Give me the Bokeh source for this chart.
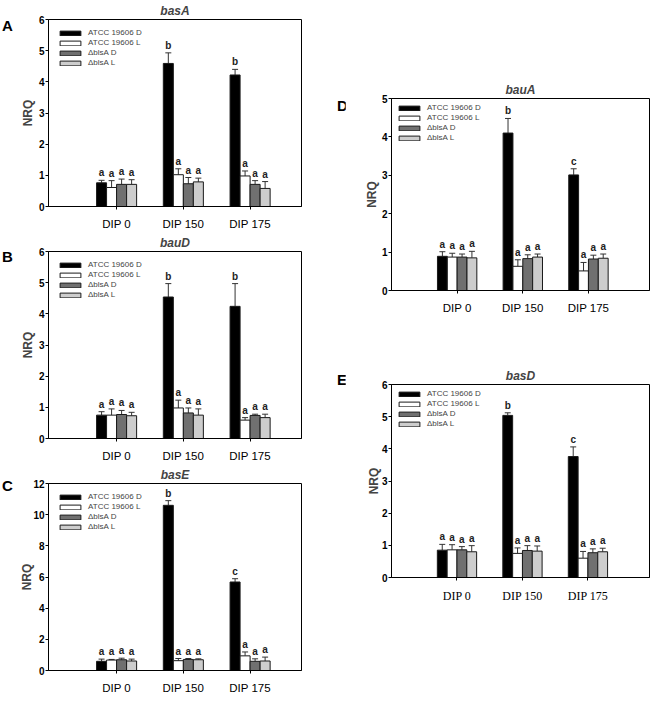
from bokeh.plotting import figure
from bokeh.layouts import row, column
from bokeh.models import ColumnDataSource, Whisker, TeeHead, Spacer, Div
from bokeh.core.properties import value
from bokeh.embed import file_html
from bokeh.resources import INLINE

groups = ["DIP 0", "DIP 150", "DIP 175"]
strains = ["ATCC 19606 D", "ATCC 19606 L", "\u0394blsA D", "\u0394blsA L"]
colors = ["black", "white", "#707070", "#cdcdcd"]

# NRQ per strain (rows) and DIP group (columns), upper error, letter groups
basA_nrq = [[0.76, 4.59, 4.22], [0.61, 1.02, 0.98], [0.71, 0.73, 0.71], [0.71, 0.79, 0.58]]
basA_err = [[0.08, 0.34, 0.18], [0.22, 0.19, 0.16], [0.17, 0.20, 0.12], [0.15, 0.12, 0.22]]
basA_sig = [["a", "b", "b"], ["a", "a", "a"], ["a", "a", "a"], ["a", "a", "a"]]

bauD_nrq = [[0.75, 4.54, 4.24], [0.75, 0.98, 0.59], [0.77, 0.82, 0.74], [0.73, 0.75, 0.67]]
bauD_err = [[0.11, 0.43, 0.73], [0.20, 0.25, 0.08], [0.13, 0.16, 0.04], [0.11, 0.20, 0.11]]
bauD_sig = [["a", "b", "b"], ["a", "a", "a"], ["a", "a", "a"], ["a", "a", "a"]]

basE_nrq = [[0.59, 10.6, 5.68], [0.67, 0.63, 0.94], [0.69, 0.71, 0.59], [0.61, 0.69, 0.61]]
basE_err = [[0.14, 0.30, 0.21], [0.04, 0.14, 0.25], [0.10, 0.06, 0.16], [0.12, 0.06, 0.25]]
basE_sig = [["a", "b", "c"], ["a", "a", "a"], ["a", "a", "a"], ["a", "a", "a"]]

bauA_nrq = [[0.89, 4.10, 3.01], [0.87, 0.63, 0.51], [0.87, 0.83, 0.82], [0.85, 0.87, 0.84]]
bauA_err = [[0.12, 0.38, 0.16], [0.10, 0.17, 0.22], [0.08, 0.10, 0.10], [0.17, 0.08, 0.11]]
bauA_sig = [["a", "b", "c"], ["a", "a", "a"], ["a", "a", "a"], ["a", "a", "a"]]

basD_nrq = [[0.85, 5.04, 3.76], [0.86, 0.75, 0.60], [0.86, 0.84, 0.77], [0.80, 0.82, 0.80]]
basD_err = [[0.18, 0.08, 0.30], [0.16, 0.17, 0.21], [0.10, 0.15, 0.12], [0.19, 0.16, 0.11]]
basD_sig = [["a", "b", "c"], ["a", "a", "a"], ["a", "a", "a"], ["a", "a", "a"]]

FONT = "Liberation Sans"
BAR_W = 0.15
TOP, BOTTOM = 17, 25


def panel(gene, nrq, err, sig, y_ticks, x_range, frame_w, frame_h, left, right,
          nrq_standoff, leg_margin, x_font=FONT, x_size="11.5px"):
    p = figure(title=gene, frame_width=frame_w, frame_height=frame_h,
               min_border_left=left, min_border_right=right,
               min_border_top=TOP, min_border_bottom=BOTTOM,
               x_range=x_range, y_range=(0, y_ticks[-1]),
               output_backend="svg", toolbar_location=None)
    p.xgrid.visible = False
    p.ygrid.visible = False
    p.outline_line_color = "black"
    p.outline_line_width = 1

    for i, name in enumerate(strains):
        xs = [g + 1 + (i - 1.5) * BAR_W for g in range(len(groups))]
        ups = [m + e for m, e in zip(nrq[i], err[i])]
        src = ColumnDataSource(dict(x=xs, top=nrq[i], upper=ups, sig=sig[i]))
        p.vbar(x="x", top="top", width=BAR_W, source=src, fill_color=colors[i],
               line_color="#1a1a1a", line_width=1, legend_label=name)
        p.add_layout(Whisker(source=src, base="x", lower="top", upper="upper",
                             line_color="#333333", line_width=1, lower_head=None,
                             upper_head=TeeHead(size=6, line_color="#333333", line_width=1)))
        p.text(x="x", y="upper", text="sig", source=src, text_align="center",
               text_baseline="bottom", y_offset=-2, text_font=value(FONT),
               text_font_size="10px", text_font_style="bold", text_color="#222222")

    p.title.text_font = FONT
    p.title.text_font_size = "12px"
    p.title.text_font_style = "bold italic"
    p.title.align = "center"
    p.title.standoff = 3

    p.xaxis.ticker = [1, 2, 3]
    p.xaxis.major_label_overrides = {i + 1: g for i, g in enumerate(groups)}
    p.xaxis.major_label_text_font = x_font
    p.xaxis.major_label_text_font_size = x_size
    p.xaxis.major_label_text_color = "black"
    p.xaxis.major_label_standoff = 8
    p.xaxis.minor_tick_line_color = None

    p.yaxis.ticker = y_ticks
    p.yaxis.axis_label = "NRQ"
    p.yaxis.axis_label_text_font = FONT
    p.yaxis.axis_label_text_font_size = "12px"
    p.yaxis.axis_label_text_font_style = "bold"
    p.yaxis.axis_label_standoff = nrq_standoff
    p.yaxis.major_label_text_font = FONT
    p.yaxis.major_label_text_font_size = "10px"
    p.yaxis.major_label_text_font_style = "bold"
    p.yaxis.major_label_text_color = "black"
    p.yaxis.major_label_standoff = 1
    p.yaxis.minor_tick_line_color = None

    for ax in (p.xaxis, p.yaxis):
        ax.major_tick_out = 3
        ax.major_tick_in = 0
        ax.axis_line_color = "black"
        ax.major_tick_line_color = "black"

    leg = p.legend[0]
    leg.location = "top_left"
    leg.margin = leg_margin
    leg.padding = 4
    leg.border_line_color = None
    leg.background_fill_alpha = 0
    leg.label_text_font = FONT
    leg.label_text_font_size = "8px"
    leg.label_height = 9
    leg.glyph_height = 6
    leg.glyph_width = 26
    leg.spacing = 1
    leg.label_standoff = 5
    return p


def tag(letter, width, dx, dy, height):
    html = (f'<div style="font: bold 15px \'{FONT}\'; line-height: 17px; '
            f'margin-left: {dx}px; margin-top: {dy}px;">{letter}</div>')
    return Div(text=html, width=width, height=height, margin=0)


pA = panel("basA", basA_nrq, basA_err, basA_sig, [0, 1, 2, 3, 4, 5, 6], (-0.02, 3.77),
           253, 187, 35, 12, 1, 9)
pB = panel("bauD", bauD_nrq, bauD_err, bauD_sig, [0, 1, 2, 3, 4, 5, 6], (-0.02, 3.77),
           253, 187, 35, 12, 1, 9)
pC = panel("basE", basE_nrq, basE_err, basE_sig, [0, 2, 4, 6, 8, 10, 12], (-0.02, 3.77),
           253, 187, 35, 12, -4, 9)
pD = panel("bauA", bauA_nrq, bauA_err, bauA_sig, [0, 1, 2, 3, 4, 5], (0, 3.93),
           258, 192, 46, 1, 0, 5)
pE = panel("basD", basD_nrq, basD_err, basD_sig, [0, 1, 2, 3, 4, 5, 6], (0, 3.94),
           258, 193, 46, 1, -2, 5, x_font="Liberation Serif", x_size="12px")

left = column(
    row(tag("A", 13, 2, 17, 229), pA),
    row(tag("B", 13, 2, 16, 229), pB),
    row(tag("C", 13, 2, 13, 229), pC),
)
right = column(
    Spacer(width=337, height=79),
    row(tag("D", 32, 24, 18, 234), pD),
    Spacer(width=337, height=49),
    row(tag("E", 32, 24, 6, 235), pE),
)
page = row(left, right)

open("out.html", "w").write(file_html(page, INLINE))
